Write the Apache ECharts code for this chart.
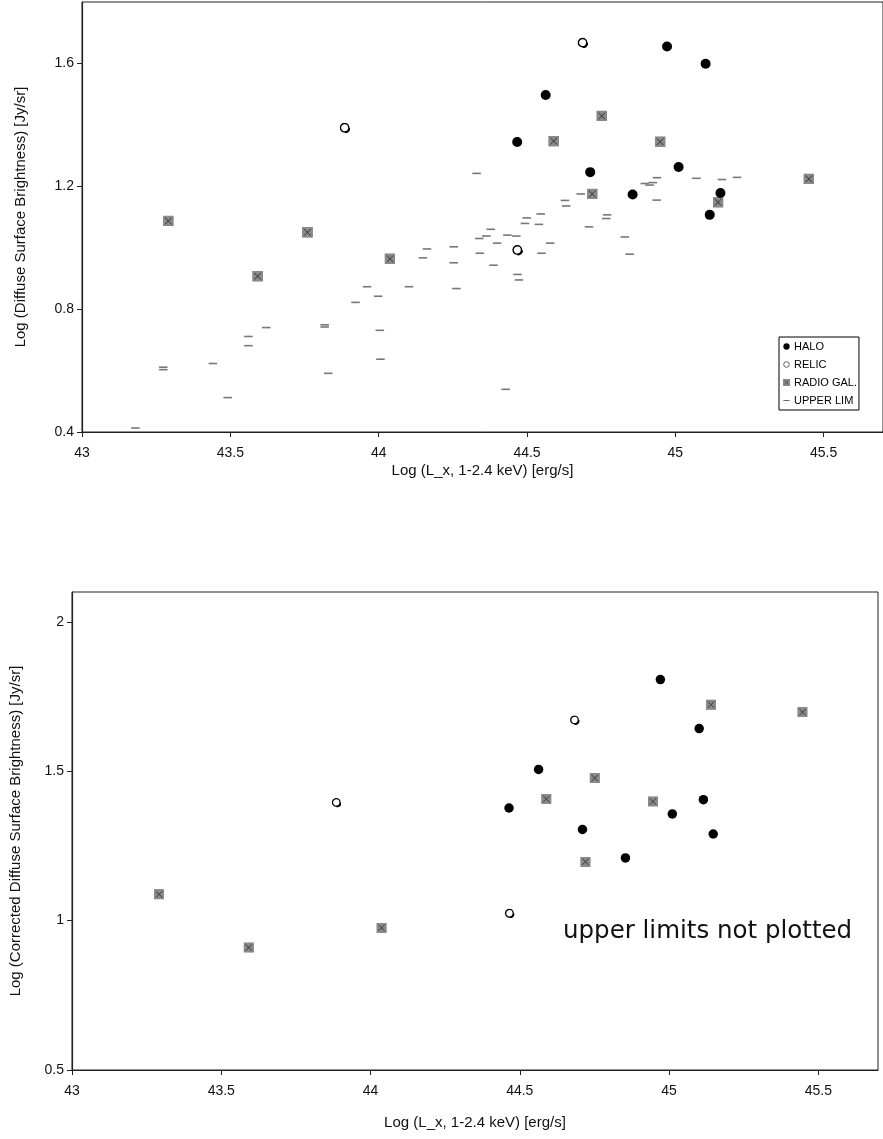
<!DOCTYPE html>
<html><head><meta charset="utf-8">
<script src="https://cdn.jsdelivr.net/npm/echarts@6/dist/echarts.min.js"></script>
<style>html,body{margin:0;padding:0;background:#fff}#c{width:883px;height:1139px}</style>
</head><body><div id="c"></div>
<script>
// ---- Top panel: Log(Diffuse Surface Brightness) vs Log(Lx)
const haloTop = [[44.972,1.655],[45.102,1.599],[44.563,1.497],[44.467,1.344],[44.713,1.246],[45.011,1.263],[44.856,1.173],[45.152,1.178],[45.116,1.107]];
const relicTop = [[43.886,1.390],[44.688,1.667],[44.468,0.992]];
const radioTop = [[43.291,1.087],[43.592,0.907],[43.760,1.050],[44.038,0.964],[44.752,1.429],[44.590,1.347],[44.949,1.345],[44.720,1.175],[45.144,1.148],[45.450,1.224]];
const upperTop = [[43.180,0.413],[43.274,0.611],[43.274,0.603],[43.441,0.623],[43.491,0.512],[43.561,0.711],[43.561,0.681],[43.621,0.740],[43.818,0.749],[43.818,0.742],[43.830,0.591],[43.922,0.822],[43.961,0.873],[43.998,0.842],[44.004,0.731],[44.006,0.637],[44.102,0.873],[44.149,0.967],[44.163,0.996],[44.330,1.242],[44.253,1.003],[44.253,0.951],[44.262,0.867],[44.339,1.030],[44.363,1.038],[44.378,1.060],[44.341,0.982],[44.399,1.015],[44.387,0.943],[44.434,1.041],[44.464,1.038],[44.468,0.913],[44.473,0.895],[44.499,1.097],[44.493,1.079],[44.546,1.110],[44.540,1.076],[44.578,1.015],[44.549,0.982],[44.628,1.154],[44.632,1.136],[44.681,1.175],[44.709,1.068],[44.770,1.107],[44.767,1.095],[44.830,1.035],[44.846,0.979],[44.897,1.209],[44.913,1.204],[44.924,1.212],[44.938,1.228],[44.937,1.155],[45.071,1.226],[45.157,1.222],[45.208,1.229],[44.428,0.539]];

// ---- Bottom panel: Log(Corrected Diffuse Surface Brightness) vs Log(Lx)
const haloBottom = [[44.971,1.807],[45.101,1.643],[44.563,1.506],[44.464,1.377],[44.710,1.305],[45.011,1.357],[44.854,1.210],[45.148,1.290],[45.115,1.405]];
const relicBottom = [[43.886,1.395],[44.684,1.671],[44.466,1.024]];
const radioBottom = [[43.292,1.088],[43.592,0.910],[44.037,0.976],[45.141,1.723],[45.447,1.698],[44.751,1.477],[44.589,1.407],[44.946,1.399],[44.720,1.197]];

// ---- Axis ticks / labels
const xTicks = [43, 43.5, 44, 44.5, 45, 45.5];
const yTicksTop = [0.4, 0.8, 1.2, 1.6];
const yTicksBottom = [0.5, 1, 1.5, 2];
const seriesNames = ['HALO', 'RELIC', 'RADIO GAL.', 'UPPER LIM'];
const xTitle = 'Log (L_x, 1-2.4 keV) [erg/s]';
const yTitleTop = 'Log (Diffuse Surface Brightness) [Jy/sr]';
const yTitleBottom = 'Log (Corrected Diffuse Surface Brightness) [Jy/sr]';
const note = 'upper limits not plotted';

function svgImg(svg){ return 'image://data:image/svg+xml;charset=utf-8,' + encodeURIComponent(svg); }
const radioSym = svgImg("<svg xmlns='http://www.w3.org/2000/svg' width='22' height='22' viewBox='0 0 10 10'><rect x='0' y='0' width='10' height='10' fill='#8a8a8a'/><path d='M2,2L8,8M8,2L2,8' stroke='#2e2e2e' stroke-width='0.85' fill='none'/></svg>");
const relicSym = svgImg("<svg xmlns='http://www.w3.org/2000/svg' width='22' height='22' viewBox='0 0 10 10'><circle cx='4.8' cy='4.8' r='3.8' fill='#fff' stroke='#000' stroke-width='1.3'/><path d='M9.2,5.0A4.3,4.3 0 0 1 5.0,9.2' stroke='#000' stroke-width='1.8' fill='none'/></svg>");
const relicLeg = svgImg("<svg xmlns='http://www.w3.org/2000/svg' width='16' height='16' viewBox='0 0 8 8'><circle cx='4' cy='4' r='3.2' fill='#fff' stroke='#000' stroke-width='0.7'/></svg>");
const haloLeg = svgImg("<svg xmlns='http://www.w3.org/2000/svg' width='16' height='16' viewBox='0 0 8 8'><circle cx='4' cy='4' r='3.6' fill='#000'/></svg>");
const upperLeg = svgImg("<svg xmlns='http://www.w3.org/2000/svg' width='16' height='16' viewBox='0 0 8 8'><rect x='0.5' y='3.5' width='7' height='1' fill='#555'/></svg>");

const FONT = 'Liberation Sans, Arial, sans-serif';

function xAxisFor(gridIndex, nameGap){
  return {
    type:'value', gridIndex, min:43, max:45.7, position:'bottom',
    name: xTitle, nameLocation:'middle', nameGap,
    nameTextStyle:{fontFamily:FONT, fontSize:15, color:'#111'},
    axisLine:{show:true, onZero:false, lineStyle:{color:'#222', width:1.2}},
    axisTick:{show:true, length:5, customValues:xTicks, lineStyle:{color:'#222'}},
    axisLabel:{customValues:xTicks, margin:14, fontFamily:FONT, fontSize:14, color:'#111',
      formatter:v=>String(v)},
    splitLine:{show:false}
  };
}
function yAxisFor(gridIndex, min, max, ticks, title, nameGap){
  return {
    type:'value', gridIndex, min, max,
    name:title, nameLocation:'middle', nameGap, nameRotate:90,
    nameTextStyle:{fontFamily:FONT, fontSize:15, color:'#111'},
    axisLine:{show:true, onZero:false, lineStyle:{color:'#222', width:1.2}},
    axisTick:{show:true, length:5, customValues:ticks, lineStyle:{color:'#222'}},
    axisLabel:{customValues:ticks, margin:8, fontFamily:FONT, fontSize:14, color:'#111',
      formatter:v=>String(v)},
    splitLine:{show:false}
  };
}

const chart = echarts.init(document.getElementById('c'), null, {renderer:'canvas'});
chart.setOption({
  backgroundColor:'#fff',
  animation:false,
  grid:[
    {left:82, top:2, right:-9, bottom:707, show:true, borderColor:'#222', borderWidth:1},
    {left:72, top:592, right:5, bottom:69, show:true, borderColor:'#222', borderWidth:1}
  ],
  xAxis:[ xAxisFor(0, 31), xAxisFor(1, 45) ],
  yAxis:[ yAxisFor(0, 0.4, 1.8, yTicksTop, yTitleTop, 54), yAxisFor(1, 0.5, 2.1, yTicksBottom, yTitleBottom, 49) ],
  legend:{
    orient:'vertical', left:779, top:337,
    borderColor:'#000', borderWidth:1, padding:[3,2,3,4], itemGap:5,
    itemWidth:7, itemHeight:7,
    textStyle:{fontFamily:FONT, fontSize:11, color:'#000', lineHeight:13, padding:[0,0,0,-1]},
    data:[
      {name:seriesNames[0], icon:haloLeg},
      {name:seriesNames[1], icon:relicLeg},
      {name:seriesNames[2], icon:radioSym},
      {name:seriesNames[3], icon:upperLeg}
    ],
    selectedMode:false
  },
  graphic:[{
    type:'text', left:563, top:919,
    style:{text:note, fontFamily:'DejaVu Sans, sans-serif', fontSize:24.5, fill:'#111'}
  }],
  series:[
    {name:seriesNames[3], type:'scatter', xAxisIndex:0, yAxisIndex:0, data:upperTop,
      symbol:'rect', symbolSize:[8.5,1.6], itemStyle:{color:'#777', opacity:1}, z:2},
    {name:seriesNames[2], type:'scatter', xAxisIndex:0, yAxisIndex:0, data:radioTop,
      symbol:radioSym, symbolSize:11, itemStyle:{opacity:1}, z:3},
    {name:seriesNames[1], type:'scatter', xAxisIndex:0, yAxisIndex:0, data:relicTop,
      symbol:relicSym, symbolSize:11, itemStyle:{opacity:1}, z:4},
    {name:seriesNames[0], type:'scatter', xAxisIndex:0, yAxisIndex:0, data:haloTop,
      symbol:'circle', symbolSize:10, itemStyle:{color:'#000', opacity:1}, z:4},

    {name:seriesNames[2], type:'scatter', xAxisIndex:1, yAxisIndex:1, data:radioBottom,
      symbol:radioSym, symbolSize:10.5, itemStyle:{opacity:1}, z:3},
    {name:seriesNames[1], type:'scatter', xAxisIndex:1, yAxisIndex:1, data:relicBottom,
      symbol:relicSym, symbolSize:10, itemStyle:{opacity:1}, z:4},
    {name:seriesNames[0], type:'scatter', xAxisIndex:1, yAxisIndex:1, data:haloBottom,
      symbol:'circle', symbolSize:9.5, itemStyle:{color:'#000', opacity:1}, z:4}
  ]
});
</script></body></html>
